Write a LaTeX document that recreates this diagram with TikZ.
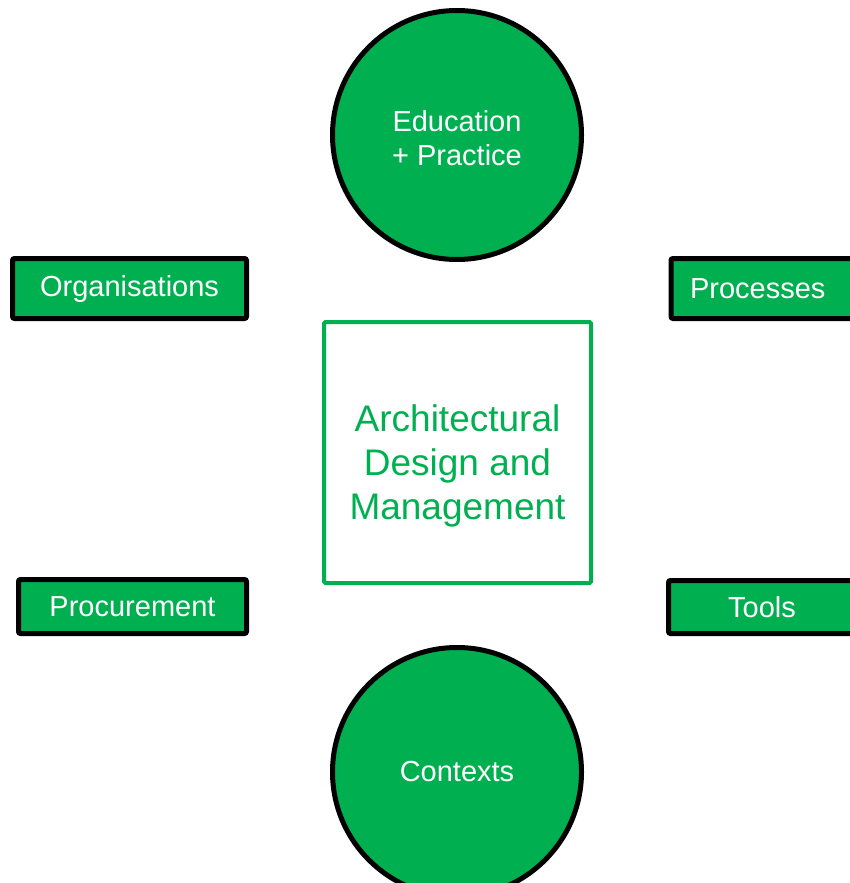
\documentclass[tikz,border=0pt]{standalone}
\usepackage{fontspec}
\setmainfont{Liberation Sans}
\usepackage{tikz}
\definecolor{lgreen}{RGB}{0,176,80}

\begin{document}
\begin{tikzpicture}[x=1pt,y=-1pt,semithick]
  \tikzstyle{topic}=[circle,fill=lgreen,draw=black,line width=5pt,minimum size=249pt,inner sep=0pt,text=white,align=center,font=\fontsize{29}{34}\selectfont]
  \tikzstyle{item}=[rectangle,fill=lgreen,draw=black,line width=5pt,rounded corners=2pt,inner sep=0pt,text=white,font=\fontsize{29}{34}\selectfont]
  \tikzstyle{core}=[rectangle,draw=lgreen,line width=4pt,rounded corners=1.5pt,minimum width=267pt,minimum height=261pt]
  \tikzstyle{coretext}=[text=lgreen,align=center,font=\fontsize{37}{44}\selectfont]
  \useasboundingbox (0,0) rectangle (850,883);
  \node [core] (adm) at (457.5,452.5) {};
  \node [coretext] (admtext) at ([yshift=-13pt]adm.center) {Architectural\\Design and\\Management};
  \node [topic] (edu) at (457,135) {};
  \node [text=white,align=center,font=\fontsize{29}{34}\selectfont] (edutext) at ([yshift=-3pt]edu.center) {Education\\+ Practice};
  \node [topic] (ctx) at (457,772) {Contexts};
  \node [item,minimum width=234pt,minimum height=60pt] (org) at (129.5,288.5) {Organisations};
  \node [item,anchor=west,text width=200pt,align=left,inner xsep=19pt,minimum height=60pt] (proc) at (668.5,288.5) {Processes};
  \node [item,minimum width=228pt,minimum height=54pt] (procur) at (132.5,606.5) {Procurement};
  \node [item,minimum width=187pt,minimum height=53pt] (tools) at (762,607) {Tools};
\end{tikzpicture}
\end{document}
